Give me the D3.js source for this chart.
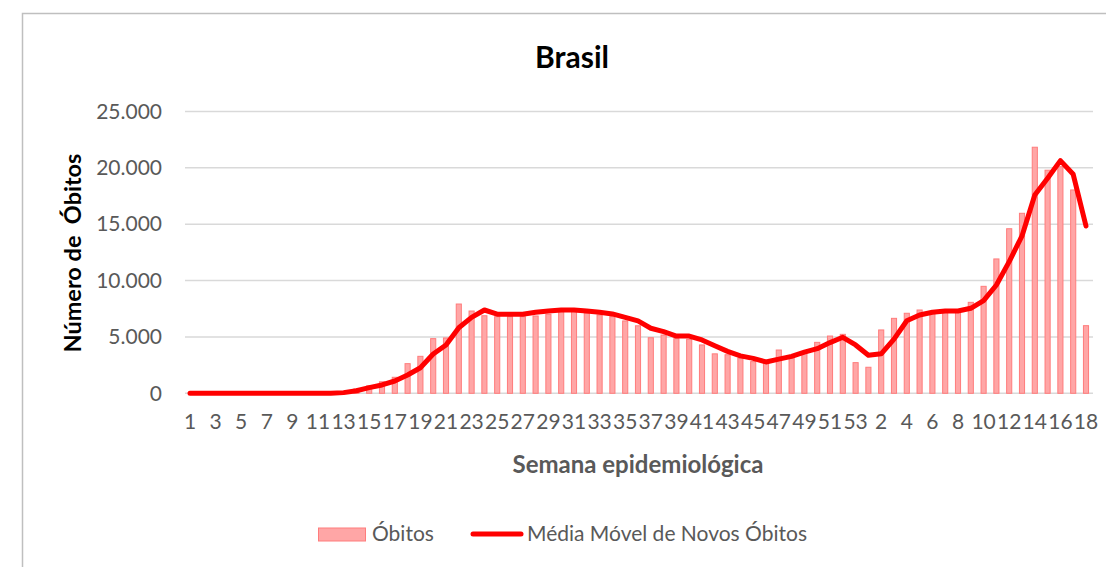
<!DOCTYPE html>
<html>
<head>
<meta charset="utf-8">
<script src="https://cdn.jsdelivr.net/npm/d3@7"></script>
<style>
  body { margin: 0; background: #fff; }
  text { font-family: Lato, "Open Sans", sans-serif; }
</style>
</head>
<body>
<svg id="chart"></svg>
<script>
// semanas epidemiológicas: 2020 (1-53) e 2021 (1-18)
var semanas = [1,2,3,4,5,6,7,8,9,10,11,12,13,14,15,16,17,18,19,20,21,22,23,24,25,26,27,
  28,29,30,31,32,33,34,35,36,37,38,39,40,41,42,43,44,45,46,47,48,49,50,51,52,53,
  1,2,3,4,5,6,7,8,9,10,11,12,13,14,15,16,17,18];

var obitos = [0,0,0,0,0,0,0,0,0,0,0,10,130,380,660,1020,1420,2630,3280,4850,4910,7920,
  7300,6880,6800,6800,6800,6860,7010,7240,7300,7100,6950,6800,6420,5990,4930,5170,4850,
  4790,4290,3500,3420,3120,2810,2660,3840,3240,3550,4520,5080,5230,2720,
  2310,5620,6650,7100,7390,7240,7390,7390,8070,9490,11920,14600,15970,21830,19790,20100,18040,6000];

var mediaMovel = [0,0,0,0,0,0,0,0,0,0,0,10,60,230,500,740,1090,1620,2270,3490,4290,5820,
  6740,7390,7020,7010,7010,7190,7300,7390,7390,7300,7190,7040,6740,6420,5770,5470,5080,
  5080,4730,4220,3720,3320,3100,2780,3030,3280,3650,3960,4500,4970,4290,
  3370,3500,4800,6440,6950,7190,7300,7300,7540,8220,9610,11680,13960,17600,19080,20640,19430,14840];

var yTicks = [0,5000,10000,15000,20000,25000];

var width = 1106;
var height = 567;

var svg = d3.select("#chart")
            .attr("width",width)
            .attr("height",height);

// moldura do gráfico (só aparecem as bordas esquerda e superior)
svg.append("rect")
   .attr("x",22.5)
   .attr("y",13.5)
   .attr("width",1200)
   .attr("height",700)
   .attr("fill","none")
   .attr("stroke","#bfbfbf")
   .attr("stroke-width",1.5);

var idx = d3.range(semanas.length);

var x = d3.scaleBand()
          .domain(idx)
          .range([183.6,1092.4])
          .paddingInner(0.6)
          .paddingOuter(0.3);

var y = d3.scaleLinear()
          .domain([0,25000])
          .range([393.3,111.5]);

var br = d3.formatLocale({decimal:",",thousands:".",grouping:[3],currency:["R$",""]});
var fmt = br.format(",");

// linhas de grade
svg.append("g")
   .selectAll("line")
   .data(yTicks)
   .enter()
   .append("line")
   .attr("x1",185)
   .attr("x2",1093)
   .attr("y1",function(d){ return y(d); })
   .attr("y2",function(d){ return y(d); })
   .attr("stroke","#d9d9d9")
   .attr("stroke-width",1.5);

var yAxis = d3.axisLeft(y)
              .tickValues(yTicks)
              .tickFormat(fmt)
              .tickSize(0)
              .tickPadding(0);

svg.append("g")
   .attr("transform","translate(162,0)")
   .call(yAxis)
   .call(function(g){ g.select(".domain").remove(); })
   .selectAll("text")
   .attr("font-size",21)
   .attr("fill","#595959")
   .attr("font-family","Lato, sans-serif");

var xAxis = d3.axisBottom(x)
              .tickValues(idx.filter(function(i){ return i % 2 == 0; }))
              .tickFormat(function(i){ return semanas[i]; })
              .tickSize(0)
              .tickPadding(0);

svg.append("g")
   .attr("transform","translate(0,414)")
   .call(xAxis)
   .call(function(g){ g.select(".domain").remove(); })
   .selectAll("text")
   .attr("font-size",21)
   .attr("fill","#595959")
   .attr("font-family","Lato, sans-serif");

// barras
svg.append("g")
   .selectAll("rect")
   .data(obitos)
   .enter()
   .append("rect")
   .attr("x",function(d,i){ return x(i); })
   .attr("y",function(d){ return y(d); })
   .attr("width",x.bandwidth())
   .attr("height",function(d){ return y(0) - y(d); })
   .attr("fill","#ffa6a6")
   .attr("stroke","#ff7c7c")
   .attr("stroke-width",1);

// média móvel
var line = d3.line()
             .x(function(d,i){ return x(i) + x.bandwidth()/2; })
             .y(function(d){ return y(d); });

svg.append("path")
   .datum(mediaMovel)
   .attr("d",line)
   .attr("fill","none")
   .attr("stroke","#ff0000")
   .attr("stroke-width",5)
   .attr("stroke-linejoin","round")
   .attr("stroke-linecap","round");

// títulos
svg.append("text")
   .attr("x",572)
   .attr("y",68)
   .attr("text-anchor","middle")
   .attr("font-size",30)
   .attr("font-weight","bold")
   .attr("fill","#000")
   .text("Brasil");

svg.append("text")
   .attr("transform","translate(81,253) rotate(-90)")
   .attr("text-anchor","middle")
   .attr("font-size",23.5)
   .attr("font-weight","bold")
   .attr("fill","#000")
   .style("white-space","pre")
   .text("Número de  Óbitos");

svg.append("text")
   .attr("x",638)
   .attr("y",473)
   .attr("text-anchor","middle")
   .attr("font-size",24)
   .attr("font-weight","bold")
   .attr("fill","#595959")
   .text("Semana epidemiológica");

// legenda
var leg = svg.append("g");

leg.append("rect")
   .attr("x",318.5)
   .attr("y",528)
   .attr("width",47)
   .attr("height",13)
   .attr("fill","#ffa6a6")
   .attr("stroke","#ff7c7c")
   .attr("stroke-width",1);

leg.append("text")
   .attr("x",372)
   .attr("y",541)
   .attr("font-size",21)
   .attr("fill","#595959")
   .text("Óbitos");

leg.append("line")
   .attr("x1",473)
   .attr("x2",521)
   .attr("y1",534)
   .attr("y2",534)
   .attr("stroke","#ff0000")
   .attr("stroke-width",5)
   .attr("stroke-linecap","round");

leg.append("text")
   .attr("x",527)
   .attr("y",541)
   .attr("font-size",21)
   .attr("fill","#595959")
   .text("Média Móvel de Novos Óbitos");
</script>
</body>
</html>
